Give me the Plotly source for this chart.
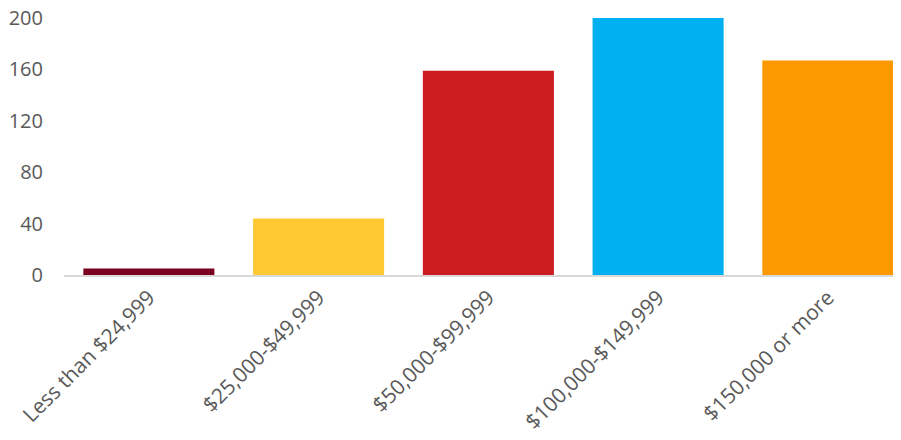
import plotly.graph_objects as go

categories = ["Less than $24,999", "$25,000-$49,999", "$50,000-$99,999",
              "$100,000-$149,999", "$150,000 or more"]
values = [5, 44, 159, 200, 167]
colors = ["#7B0020", "#FFC934", "#CD1B22", "#00B0F0", "#FC9900"]
y_ticks = [0, 40, 80, 120, 160, 200]

fig = go.Figure(go.Bar(x=categories, y=values, marker=dict(color=colors, line=dict(width=0)),
                       width=0.772))

font_family = "Open Sans, Liberation Sans, sans-serif"
fig.update_layout(
    width=893, height=432,
    margin=dict(l=56, r=0, t=10, b=165, autoexpand=False),
    plot_bgcolor="white", paper_bgcolor="white",
    showlegend=False,
    font=dict(family=font_family, size=19, color="#595959"),
)
fig.update_xaxes(
    type="category", range=[-0.5, 4.431], tickangle=-45, automargin=False,
    showline=True, linecolor="#D9D9D9", linewidth=2,
    showgrid=False, ticks="", tickfont=dict(size=21, color="#595959"),
)
fig.update_yaxes(
    range=[0, 200], tickvals=y_ticks, showgrid=False, zeroline=False, automargin=False,
    showline=False, ticks="", ticklabelstandoff=20, ticklabeloverflow="allow",
    tickfont=dict(size=20, color="#595959"),
)
fig.write_html("out.html")
